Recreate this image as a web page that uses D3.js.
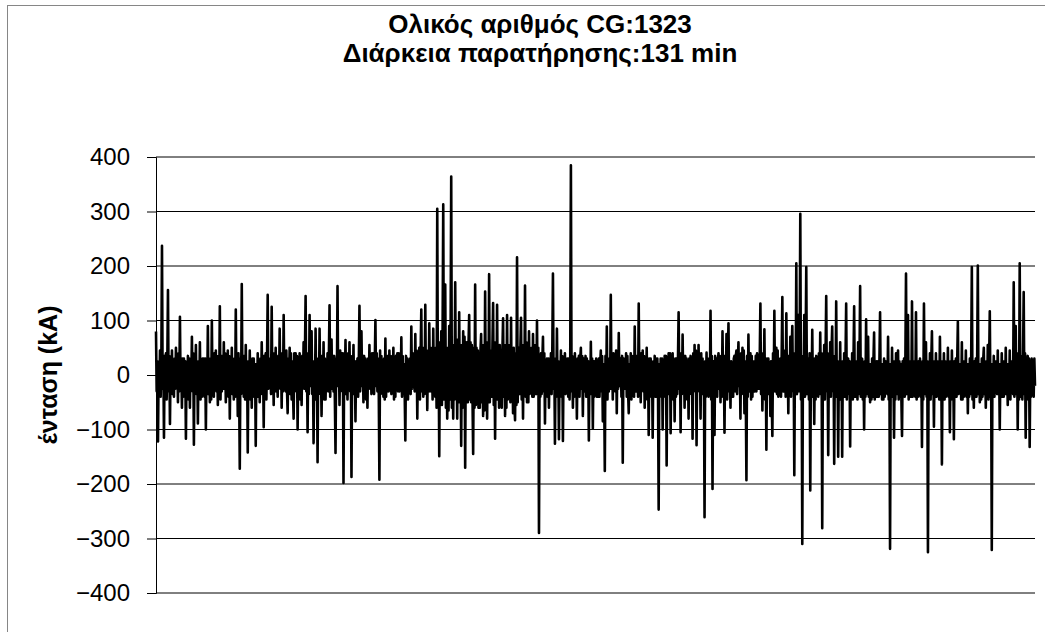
<!DOCTYPE html>
<html>
<head>
<meta charset="utf-8">
<title>CG</title>
<script src="https://d3js.org/d3.v7.min.js"></script>
<style>
    body {
        margin: 0;
        background: #fff;
    }
    svg {
        font-family: 'Liberation Sans', Arial, sans-serif;
    }
    .chartTitle {
        font-size: 26px;
        font-weight: 700;
    }
    .axisTitle {
        font-size: 25px;
        font-weight: 700;
    }
    .tickLabel {
        font-size: 24px;
    }
    .gridline {
        stroke: #000;
        stroke-width: 1px;
    }
    .series {
        fill: none;
        stroke: #000;
        stroke-width: 2.6px;
        stroke-linejoin: round;
    }
</style>
</head>
<body>
<svg id="chart" width="1045" height="632"></svg>
<script>
    // chart texts
    const titleLines = ["Ολικός αριθμός CG:1323", "Διάρκεια παρατήρησης:131 min"];
    const yTitle = "ένταση (kA)";
    const yTicks = [-400, -300, -200, -100, 0, 100, 200, 300, 400];

    // peak current of each CG stroke in kA, in time order (1323 values)
    const intensity = [
        80,-30,25, -122,20,-35, 45,-40,15, 237,-25,30, -115,35,-20, 40,-45,20, 156,-30,35, -90,25,-15, 45,-35,20, -40,30,-25,
        50,-20,35, -50,40,-30, 107,-25,15, -60,30,-40, 30,-35,25, -117,20,-30, 35,-45,30, -60,25,-20, 70,-30,40, -128,35,-25,
        55,-35,20, -89,25,-40, 60,-45,25, -40,30,-15, 30,-40,30, -100,20,-35, 90,-35,25, -50,30,-45, 100,-25,20, -40,40,-25,
        45,-30,35, -55,20,-30, 126,-45,20, -30,35,-25, 60,-25,40, -50,30,-20, 45,-40,35, -80,25,-30, 50,-35,15, -45,30,-40,
        120,-25,30, -75,40,-20, -172,30,-35, 167,-20,25, -40,35,-45, 55,-30,20, -142,25,-35, 45,-45,25, -60,30,-40, 30,-35,20,
        -130,20,-30, 40,-40,25, -50,30,-35, 60,-25,20, -96,35,-40, 40,-45,30, 147,-25,20, -20,30,-35, 125,-20,25, -55,40,-30,
        50,-30,25, -40,35,-20, 85,-25,40, -60,40,-30, 110,-20,35, -30,45,-25, -70,30,-20, 50,-35,40, -45,25,-30, -80,40,-20,
        40,-30,35, -100,20,-25, 40,-45,30, -55,35,-20, 60,-25,40, 145,-30,25, -105,40,-35, 110,-20,30, 80,-35,20, -125,25,-45,
        85,-40,25, -160,30,-35, 85,-25,20, -75,35,-40, 60,-45,30, -45,20,-25, 40,-30,35, 128,-40,20, 65,-25,30, -30,35,-45,
        -143,30,-20, 163,-20,35, -55,45,-25, 40,-30,40, -198,25,-20, 64,-35,30, -45,40,-25, 60,-30,35, -187,20,-30, 55,-35,25,
        -85,25,-30, 30,-40,20, 127,-30,35, 80,-20,25, -50,35,-40, 30,-45,25, -60,30,-20, 55,-25,35, -35,40,-30, 40,-35,20,
        101,-20,40, -30,30,-25, -192,45,-35, 35,-25,20, -40,30,-45, 67,-40,25, -30,35,-30, 45,-20,35, -35,30,-20, 50,-45,30,
        -40,35,-25, 40,-30,40, -30,25,-20, 69,-40,35, -35,20,-30, -120,35,-25, 30,-45,20, -30,30,-35, 89,-25,40, -20,40,-30,
        75,-30,45, -80,35,-25, 50,-45,40, 120,-30,50, -40,40,-35, 129,-25,45, -64,35,-30, 95,-30,50, -30,40,-45, 85,-35,40,
        -40,50,-60, 305,-40,55, -149,60,-45, 80,-55,70, 313,-45,50, 166,-60,40, -80,50,-65, 90,-45,55, 364,-60,50, -80,55,-45,
        170,-40,60, -80,65,-50, 115,-50,45, -130,55,-60, 80,-45,70, -170,60,-50, 60,-50,55, 110,-45,60, -50,55,-40, -145,50,-60,
        166,-55,50, -40,45,-60, 40,-60,45, 75,-50,55, -75,45,-65, 153,-55,40, -80,60,-50, 185,-50,45, 40,-40,55, 132,-55,60,
        -117,50,-45, 129,-45,50, -60,55,-40, 40,-60,45, 104,-40,55, -75,50,-60, 110,-45,40, -10,55,-50, 105,-40,45, -70,50,-55,
        -83,40,-55, 216,-50,45, 50,-35,50, 105,-45,40, -80,55,-35, 164,-40,60, -50,45,-50, 80,-35,45, -30,50,-40, 75,-40,55,
        -35,45,-35, 100,-35,50, -290,30,-40, 40,-35,25, 70,-30,40, -89,25,-35, 30,-40,30, -60,30,-20, 40,-35,40, 186,-25,30,
        -126,30,-40, 85,-35,25, -118,20,-30, 45,-40,35, -121,25,-20, 40,-35,30, -30,30,-40, 30,-45,25, 385,-30,35, -60,25,-40,
        40,-35,20, -80,30,-25, 35,-40,30, 50,-25,35, -75,30,-20, -30,35,-40, 30,-40,25, -120,20,-35, 61,-35,30, -98,25,-40,
        25,-35,30, -40,25,-40, 30,-40,20, 45,-30,35, -85,20,-25, -176,35,-40, 89,-45,30, -30,30,-25, 147,-25,35, -45,40,-20,
        30,-30,45, -70,35,-25, 77,-20,30, 30,-40,35, -161,30,-20, 30,-25,40, -40,35,-30, -70,20,-25, 40,-45,35, -35,30,-40,
        89,-30,25, -30,35,-40, 131,-25,30, -50,40,-20, 45,-30,35, -60,20,-25, 50,-45,30, -110,30,-40, 30,-35,20, -115,25,-35,
        35,-40,30, -40,30,-25, -247,20,-40, 30,-35,30, -100,25,-20, 35,-40,35, -166,30,-25, 40,-35,40, -107,20,-30, 40,-45,25,
        -85,30,-40, 30,-35,25, 115,-25,30, -105,40,-35, 74,-20,25, -60,35,-40, 30,-45,20, -80,30,-35, 35,-25,30, -117,40,-25,
        55,-30,45, -129,35,-30, 55,-20,25, -80,40,-35, 30,-30,20, -261,25,-40, 41,-35,30, -40,30,-25, 118,-45,35, -209,25,-40,
        -110,35,-30, 30,-40,25, 40,-25,35, -50,30,-40, 80,-20,30, -106,35,-25, 75,-45,35, 95,-30,20, -60,25,-40, 20,-40,30,
        35,-30,35, 45,-35,20, 60,-20,25, -80,40,-35, 50,-30,45, -70,25,-30, -193,35,-40, 74,-30,20, 40,-45,35, -40,25,-30,
        25,-30,35, -30,40,-25, 35,-25,30, 131,-35,40, -65,20,-25, 84,-45,30, -137,30,-35, 30,-35,20, -75,25,-40, -112,40,-30,
        118,-30,25, 50,-35,45, -40,20,-30, 30,-40,35, 143,-30,25, -30,45,-40, 113,-25,35, -70,35,-30, 70,-40,45, 90,-30,35,
        -184,40,-30, 205,-35,45, 110,-30,40, 296,-45,35, -310,30,-25, 110,-40,45, 198,-35,30, 30,-45,40, -212,25,-35, 83,-40,30,
        -90,30,-45, 35,-35,25, -40,40,-35, 78,-30,40, -281,25,-30, 55,-45,35, 145,-30,40, -147,35,-30, 60,-40,45, 89,-30,35,
        -163,30,-40, 135,-40,25, -150,20,-45, 60,-45,20, -150,25,-40, 40,-40,25, 131,-45,20, 30,-35,25, -131,20,-40, 40,-45,25,
        126,-40,20, -40,25,-45, 60,-35,20, 163,-40,25, 30,-45,20, -100,25,-40, 102,-35,25, 70,-40,20, -50,20,-45, 30,-40,25,
        78,-45,20, -40,25,-40, 25,-40,25, 115,-35,20, -45,20,-45, 30,-40,25, -30,25,-35, 70,-45,20, -319,20,-40, 50,-40,25,
        -115,25,-45, 40,-35,20, 45,-45,25, -40,20,-40, -112,25,-35, 30,-40,20, 186,-35,25, 110,-45,20, -40,25,-40, 135,-40,25,
        -30,20,-40, 115,-45,25, -40,25,-35, 30,-40,20, -132,25,-45, 131,-35,20, 60,-40,25, -325,20,-40, 40,-45,25, 80,-35,20,
        -95,25,-40, 40,-40,25, -35,20,-45, 70,-35,20, -164,25,-40, 40,-45,25, -40,20,-35, 50,-40,20, -105,25,-45, 45,-35,25,
        -118,25,-40, 30,-40,25, 98,-35,20, -30,20,-45, 60,-45,25, -40,25,-35, 45,-40,20, -70,20,-40, 30,-35,25, 198,-45,20,
        -60,25,-40, 30,-40,25, 201,-35,20, -50,20,-45, 30,-40,25, 50,-35,20, -60,25,-40, 55,-45,25, 117,-40,20, -321,20,-40,
        35,-40,25, -30,25,-35, 45,-35,20, -100,20,-40, 40,-40,25, -40,25,-35, 50,-35,20, -55,20,-40, 45,-45,25, -30,25,-35,
        170,-40,30, 90,-35,40, -100,30,-45, 205,-40,35, 30,-45,30, 152,-35,40, -115,30,-45, 35,-40,30, -132,25,-40, 30,-35,25,
        -40,30,-20
    ];

    var svg = d3.select("#chart");
    const plot = { left: 156, right: 1035, top: 157, bottom: 593 };

    var x = d3.scaleLinear()
        .domain([0, intensity.length - 1])
        .range([plot.left, plot.right]);
    var y = d3.scaleLinear()
        .domain([-400, 400])
        .range([plot.bottom, plot.top]);

    // outer chart frame (runs off the right and bottom edges)
    svg.append("rect")
        .attr("x", 7.5)
        .attr("y", 5.5)
        .attr("width", 1200)
        .attr("height", 800)
        .attr("fill", "none")
        .attr("stroke", "#868686")
        .attr("stroke-width", 1);

    // title, two lines
    svg.append("text")
        .attr("class", "chartTitle")
        .attr("text-anchor", "middle")
        .selectAll("tspan")
        .data(titleLines)
        .enter()
        .append("tspan")
        .attr("x", 540)
        .attr("y", (d, i) => 33 + i * 29)
        .text(d => d);

    // horizontal gridlines
    svg.append("g")
        .selectAll("line")
        .data(yTicks)
        .enter()
        .append("line")
        .attr("class", "gridline")
        .attr("x1", plot.left)
        .attr("x2", plot.right)
        .attr("y1", d => y(d))
        .attr("y2", d => y(d));

    // value axis
    var yAxis = d3.axisLeft(y)
        .tickValues(yTicks)
        .tickSize(9)
        .tickPadding(17)
        .tickFormat(d3.format("d"));
    var axisG = svg.append("g")
        .attr("transform", "translate(" + plot.left + ",0)")
        .call(yAxis);
    axisG.attr("font-size", null).attr("font-family", null);
    axisG.select(".domain").attr("stroke", "#000");
    axisG.selectAll(".tick line").attr("stroke", "#000");
    axisG.selectAll(".tick text")
        .attr("class", "tickLabel")
        .attr("fill", "#000");

    svg.append("text")
        .attr("class", "axisTitle")
        .attr("text-anchor", "middle")
        .attr("transform", "translate(57," + y(0) + ") rotate(-90)")
        .text(yTitle);

    // the series
    var line = d3.line()
        .x((d, i) => x(i))
        .y(d => y(d));
    svg.append("path")
        .datum(intensity)
        .attr("class", "series")
        .attr("d", line);
</script>
</body>
</html>
